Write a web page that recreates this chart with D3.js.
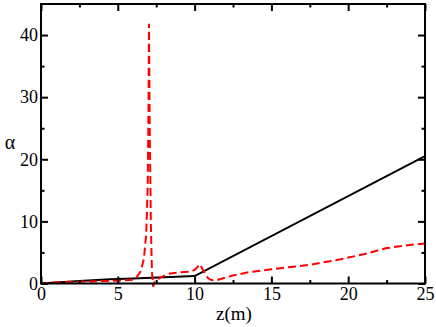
<!DOCTYPE html>
<html>
<head>
<meta charset="utf-8">
<script src="https://cdn.jsdelivr.net/npm/d3@7"></script>
<style>
  body { margin: 0; background: #fff; }
  text { font-family: "Liberation Serif", "Times New Roman", serif; fill: #000; }
</style>
</head>
<body>
<div class="chart_div"></div>
<script>
// black solid curve
var black_z = [0, 1, 2.5, 4.5, 6, 8, 10, 25];
var black_a = [0, 0.15, 0.4, 0.7, 0.8, 1.0, 1.2, 20.5];

// red dashed curve
var red_z = [0, 1, 2.5, 4, 5, 6, 6.2, 6.5, 6.7, 6.85, 6.95, 7.0, 7.03, 7.08, 7.15, 7.22, 7.3, 7.4, 7.8, 8.4, 9.0, 9.7, 10.0, 10.2, 10.35, 10.5, 10.7, 10.9, 11.1, 11.4, 11.8, 12.5, 13.5, 15, 17.5, 19.5, 21, 22.5, 24, 25];
var red_a = [0, 0.2, 0.3, 0.4, 0.45, 0.6, 0.9, 2.0, 4.0, 8.0, 16.0, 28.0, 41.8, 25.0, 10.0, 2.0, -0.5, 0.3, 1.0, 1.6, 1.8, 1.9, 2.2, 2.7, 3.1, 2.4, 1.5, 0.8, 0.55, 0.5, 0.8, 1.3, 1.8, 2.3, 3.0, 3.9, 4.7, 5.7, 6.2, 6.45];

var x_ticks = [0, 5, 10, 15, 20, 25];
var x_minor = [2.5, 7.5, 12.5, 17.5, 22.5];
var y_ticks = [0, 10, 20, 30, 40];
var y_minor = [5, 15, 25, 35];

var W = 436, H = 327;
var pLeft = 41, pRight = 425, pTop = 4, pBottom = 283.5;

var svg = d3.select(".chart_div").append("svg")
            .attr("width", W)
            .attr("height", H);

var x = d3.scaleLinear().domain([0, 25]).range([pLeft, pRight]);
var y = d3.scaleLinear().domain([0, 45]).range([pBottom, pTop]);

svg.append("clipPath").attr("id", "plotclip")
   .append("rect")
   .attr("x", pLeft).attr("y", pTop)
   .attr("width", pRight - pLeft).attr("height", pBottom - pTop + 6);

var line = d3.line()
             .x(function(d){ return x(d[0]); })
             .y(function(d){ return y(d[1]); });

svg.append("path")
   .datum(black_z.map(function(z, i){ return [z, black_a[i]]; }))
   .attr("d", line)
   .attr("fill", "none")
   .attr("stroke", "#000")
   .attr("stroke-width", 2);

svg.append("path")
   .datum(red_z.map(function(z, i){ return [z, red_a[i]]; }))
   .attr("d", line)
   .attr("clip-path", "url(#plotclip)")
   .attr("fill", "none")
   .attr("stroke", "#ff0000")
   .attr("stroke-width", 2)
   .attr("stroke-dasharray", "8,4");

// axes: ticks point inward, on all four sides
function axisGroup(axis, tx, ty) {
  var g = svg.append("g").attr("transform", "translate(" + tx + "," + ty + ")").call(axis);
  g.select(".domain").remove();
  g.selectAll("line").attr("stroke", "#000").attr("stroke-width", 2);
  return g;
}

axisGroup(d3.axisBottom(x).tickValues(x_ticks).tickSizeInner(-7).tickSizeOuter(0).tickPadding(4).tickFormat(d3.format("d")), 0, pBottom);
axisGroup(d3.axisBottom(x).tickValues(x_minor).tickSizeInner(-3.5).tickSizeOuter(0).tickFormat(""), 0, pBottom);
axisGroup(d3.axisTop(x).tickValues(x_ticks).tickSizeInner(-7).tickSizeOuter(0).tickFormat(""), 0, pTop);
axisGroup(d3.axisTop(x).tickValues(x_minor).tickSizeInner(-3.5).tickSizeOuter(0).tickFormat(""), 0, pTop);

axisGroup(d3.axisLeft(y).tickValues(y_ticks).tickSizeInner(-7).tickSizeOuter(0).tickPadding(3).tickFormat(d3.format("d")), pLeft, 0);
axisGroup(d3.axisLeft(y).tickValues(y_minor).tickSizeInner(-3.5).tickSizeOuter(0).tickFormat(""), pLeft, 0);
axisGroup(d3.axisRight(y).tickValues(y_ticks).tickSizeInner(-7).tickSizeOuter(0).tickFormat(""), pRight, 0);
axisGroup(d3.axisRight(y).tickValues(y_minor).tickSizeInner(-3.5).tickSizeOuter(0).tickFormat(""), pRight, 0);

svg.selectAll(".tick text")
   .style("font-family", "'Liberation Serif', 'Times New Roman', serif")
   .style("font-size", "18px")
   .attr("fill", "#000");

// frame
svg.append("rect")
   .attr("x", pLeft).attr("y", pTop)
   .attr("width", pRight - pLeft).attr("height", pBottom - pTop)
   .attr("fill", "none")
   .attr("stroke", "#000")
   .attr("stroke-width", 2);

svg.append("text")
   .attr("x", 234)
   .attr("y", 320)
   .attr("text-anchor", "middle")
   .style("font-size", "19px")
   .text("z(m)");

svg.append("text")
   .attr("x", 10)
   .attr("y", 149)
   .attr("text-anchor", "middle")
   .style("font-size", "20px")
   .text("α");
</script>
</body>
</html>
